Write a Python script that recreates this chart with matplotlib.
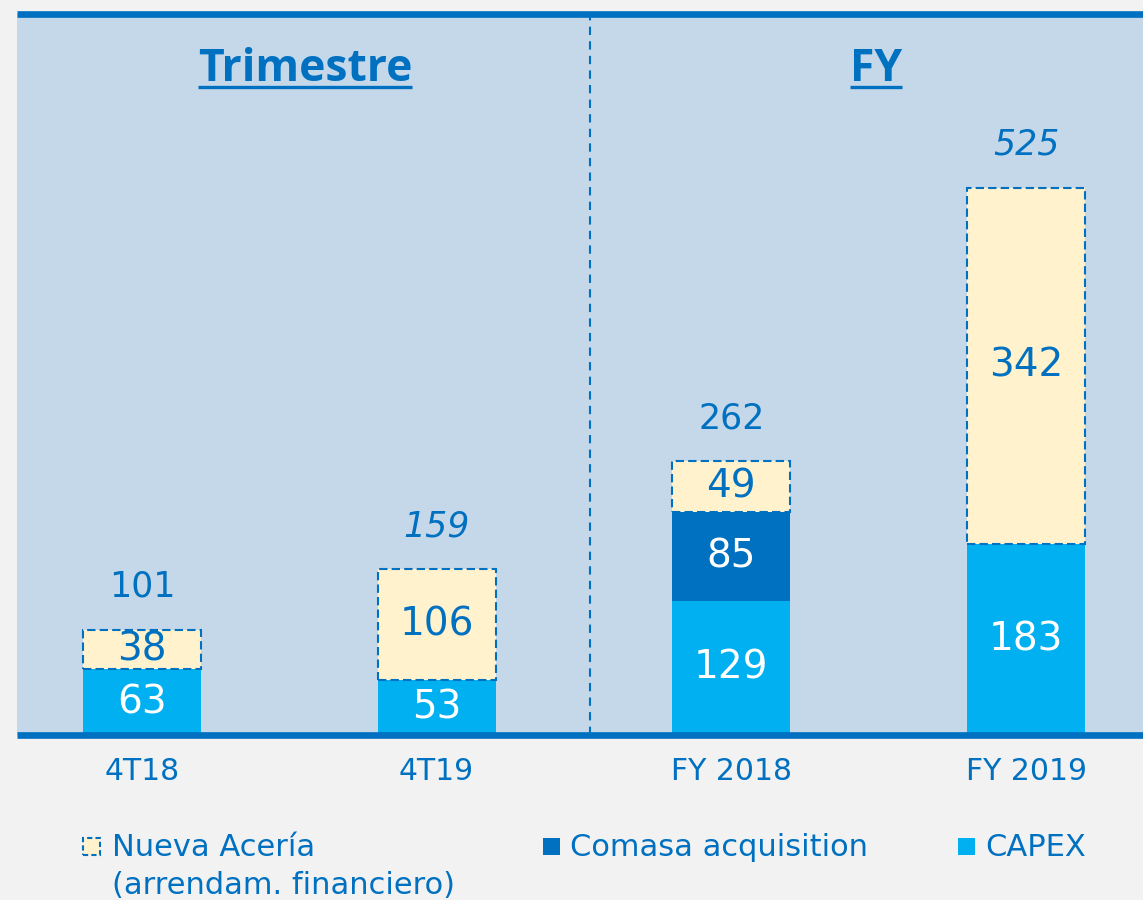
import matplotlib
matplotlib.use("Agg")
import matplotlib.pyplot as plt
from matplotlib.patches import Rectangle
from matplotlib.lines import Line2D
import numpy as np

# ---- data ----
categories = ["4T18", "4T19", "FY 2018", "FY 2019"]
capex = [63, 53, 129, 183]
comasa = [0, 0, 85, 0]
nueva = [38, 106, 49, 342]
totals = [101, 159, 262, 525]
total_italic = [False, True, False, True]
legend_labels = ["Nueva Acería\n(arrendam. financiero)", "Comasa acquisition", "CAPEX"]
group_titles = ["Trimestre", "FY"]

# ---- style ----
BLUE = "#0070c0"
CYAN = "#00b0f0"
CREAM = "#fff2cc"
PLOT_BG = "#c5d8e9"
FIG_BG = "#f2f2f2"
W, H = 1143, 900

fig = plt.figure(figsize=(W / 100, H / 100), dpi=100, facecolor=FIG_BG)
ax = fig.add_axes([17 / W, 1 - 735 / H, (W - 17) / W, (735 - 13.5) / H])
ax.set_facecolor(PLOT_BG)

x = np.arange(len(categories))
bw = 0.4
ax.bar(x, capex, bw, color=CYAN, zorder=2)
ax.bar(x, comasa, bw, bottom=capex, color=BLUE, zorder=2)
bottom2 = np.array(capex) + np.array(comasa)
ax.bar(x, nueva, bw, bottom=bottom2, facecolor=CREAM, edgecolor=BLUE,
       linewidth=1.5, linestyle=(0, (4, 2)), zorder=3)

# segment labels
for i in range(len(categories)):
    ax.text(x[i], capex[i] / 2, str(capex[i]), ha="center", va="center",
            color="white", fontsize=28, zorder=5)
    if comasa[i]:
        ax.text(x[i], capex[i] + comasa[i] / 2, str(comasa[i]), ha="center",
                va="center", color="white", fontsize=28, zorder=5)
    ax.text(x[i], bottom2[i] + nueva[i] / 2, str(nueva[i]), ha="center",
            va="center", color=BLUE, fontsize=28, zorder=5)
    ax.annotate(str(totals[i]), (x[i], totals[i]), xytext=(0, 31),
                textcoords="offset points", ha="center", va="center",
                color=BLUE, fontsize=25,
                style="italic" if total_italic[i] else "normal")

ax.set_xlim(-0.4237, 3.3966)
ax.set_ylim(0, 692)
ax.set_xticks(x)
ax.set_xticklabels(categories, color=BLUE, fontsize=21.5)
ax.tick_params(axis="x", length=0, pad=16)
ax.set_yticks([])
for s in ["left", "right"]:
    ax.spines[s].set_visible(False)
for s in ["top", "bottom"]:
    ax.spines[s].set_color(BLUE)
    ax.spines[s].set_linewidth(4.8)
    ax.spines[s].set_capstyle("butt")

ax.axvline(1.52, color=BLUE, linewidth=1.5, linestyle=(0, (4, 3)), zorder=1)

# group titles with underline
title_x = [305, 876]
texts = []
for t, px in zip(group_titles, title_x):
    tx = fig.text(px / W, 1 - 81 / H, t, ha="center", va="baseline",
                  color=BLUE, fontsize=32, fontweight="bold", family="Open Sans")
    texts.append(tx)
fig.canvas.draw()
r = fig.canvas.get_renderer()
for tx in texts:
    bb = tx.get_window_extent(r)
    fig.add_artist(Line2D([bb.x0 / W, bb.x1 / W], [1 - 87 / H, 1 - 87 / H],
                          transform=fig.transFigure, color=BLUE, linewidth=2.4,
                          solid_capstyle="butt"))

# legend (manual)
def frac_rect(x0, y0, x1, y1, **kw):
    return Rectangle((x0 / W, 1 - y1 / H), (x1 - x0) / W, (y1 - y0) / H,
                     transform=fig.transFigure, **kw)

fig.add_artist(frac_rect(83, 838, 100, 855, facecolor=CREAM, edgecolor=BLUE,
                         linewidth=1.5, linestyle=(0, (2.5, 1.5))))
fig.add_artist(frac_rect(543, 838, 560, 855, facecolor=BLUE, edgecolor="none"))
fig.add_artist(frac_rect(958, 838, 975, 855, facecolor=CYAN, edgecolor="none"))

l1, l2 = legend_labels[0].split("\n")
LFS = 22
fig.text(112 / W, 1 - 856 / H, l1, color=BLUE, fontsize=LFS, va="baseline")
fig.text(112 / W, 1 - 894 / H, l2, color=BLUE, fontsize=LFS, va="baseline")
fig.text(570 / W, 1 - 856 / H, legend_labels[1], color=BLUE, fontsize=LFS, va="baseline")
fig.text(985 / W, 1 - 856 / H, legend_labels[2], color=BLUE, fontsize=LFS, va="baseline")

fig.savefig("out.png", dpi=100, facecolor=FIG_BG)
